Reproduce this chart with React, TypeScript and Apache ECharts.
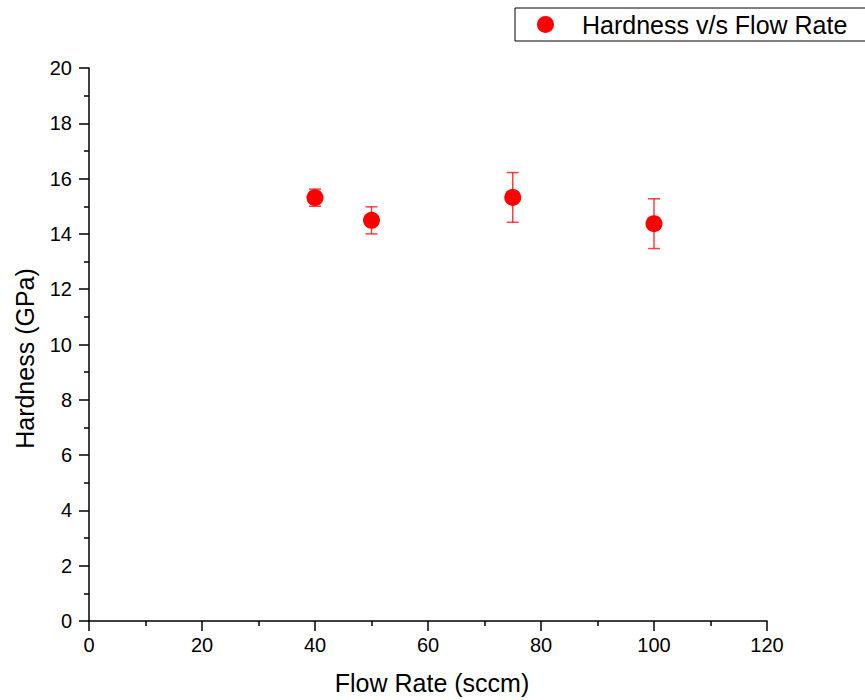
import React, { useEffect, useRef } from "react";
import * as echarts from "echarts";

const flowRates = [40, 50, 75, 100];
const hardness = [15.31, 14.49, 15.32, 14.37];
const hardnessErr = [0.31, 0.49, 0.9, 0.9];
const seriesName = "Hardness v/s Flow Rate";

const FONT = "Arial, 'Liberation Sans', Helvetica, sans-serif";

export default function App() {
  const ref = useRef<HTMLDivElement>(null);

  useEffect(() => {
    if (!ref.current) return;
    const chart = echarts.init(ref.current, undefined, { renderer: "svg" });

    const scatterData = flowRates.map((x, i) => [x, hardness[i]]);
    const errData = flowRates.map((x, i) => [x, hardness[i] - hardnessErr[i], hardness[i] + hardnessErr[i]]);

    const axisCommon = {
      axisLine: { show: true, onZero: false, lineStyle: { color: "#000", width: 1.5 } },
      axisTick: { show: true, inside: false, length: 10, lineStyle: { color: "#000", width: 1.5 } },
      minorTick: { show: true, splitNumber: 2, length: 5, lineStyle: { color: "#000", width: 1.5 } },
      splitLine: { show: false },
      minorSplitLine: { show: false },
    };

    chart.setOption({
      animation: false,
      backgroundColor: "#fff",
      textStyle: { fontFamily: FONT },
      grid: { left: 89, right: 98, top: 68, bottom: 79, containLabel: false },
      legend: {
        data: [{ name: seriesName, icon: "circle" }],
        left: 515,
        top: 8,
        orient: "horizontal",
        itemWidth: 17,
        itemHeight: 17,
        borderColor: "#000",
        borderWidth: 1,
        borderRadius: 0,
        padding: [4, 80, 4, 22],
        selectedMode: false,
        textStyle: { color: "#000", fontSize: 25, fontFamily: FONT, lineHeight: 25, padding: [0, 0, 0, 23] },
      },
      xAxis: {
        type: "value",
        min: 0,
        max: 120,
        interval: 20,
        name: "Flow Rate (sccm)",
        nameLocation: "middle",
        nameGap: 49,
        nameTextStyle: { color: "#000", fontSize: 25, fontFamily: FONT, padding: [0, 0, 0, 8] },
        axisLabel: { color: "#000", fontSize: 20, fontFamily: FONT, margin: 14 },
        ...axisCommon,
      },
      yAxis: {
        type: "value",
        min: 0,
        max: 20,
        interval: 2,
        name: "Hardness (GPa)",
        nameLocation: "middle",
        nameGap: 52,
        nameTextStyle: { color: "#000", fontSize: 25, fontFamily: FONT, padding: [0, 28, 0, 0] },
        axisLabel: { color: "#000", fontSize: 20, fontFamily: FONT, margin: 17 },
        ...axisCommon,
      },
      series: [
        {
          type: "custom",
          name: "error",
          data: errData,
          z: 2,
          silent: true,
          renderItem: (params: any, api: any) => {
            const x = api.value(0);
            const lo = api.coord([x, api.value(1)]);
            const hi = api.coord([x, api.value(2)]);
            const hw = 6;
            const style = { stroke: "rgba(255,0,0,0.75)", lineWidth: 1.5 };
            return {
              type: "group",
              children: [
                { type: "line", shape: { x1: hi[0], y1: hi[1], x2: lo[0], y2: lo[1] }, style },
                { type: "line", shape: { x1: hi[0] - hw, y1: hi[1], x2: hi[0] + hw, y2: hi[1] }, style },
                { type: "line", shape: { x1: lo[0] - hw, y1: lo[1], x2: lo[0] + hw, y2: lo[1] }, style },
              ],
            };
          },
        },
        {
          type: "scatter",
          name: seriesName,
          data: scatterData,
          symbol: "circle",
          symbolSize: 17,
          z: 3,
          itemStyle: { color: "#ff0000", opacity: 1 },
        },
      ],
    });

    return () => chart.dispose();
  }, []);

  return (
    <div
      ref={ref}
      style={{ position: "fixed", left: 0, top: 0, width: 865, height: 700, background: "#fff" }}
    />
  );
}
